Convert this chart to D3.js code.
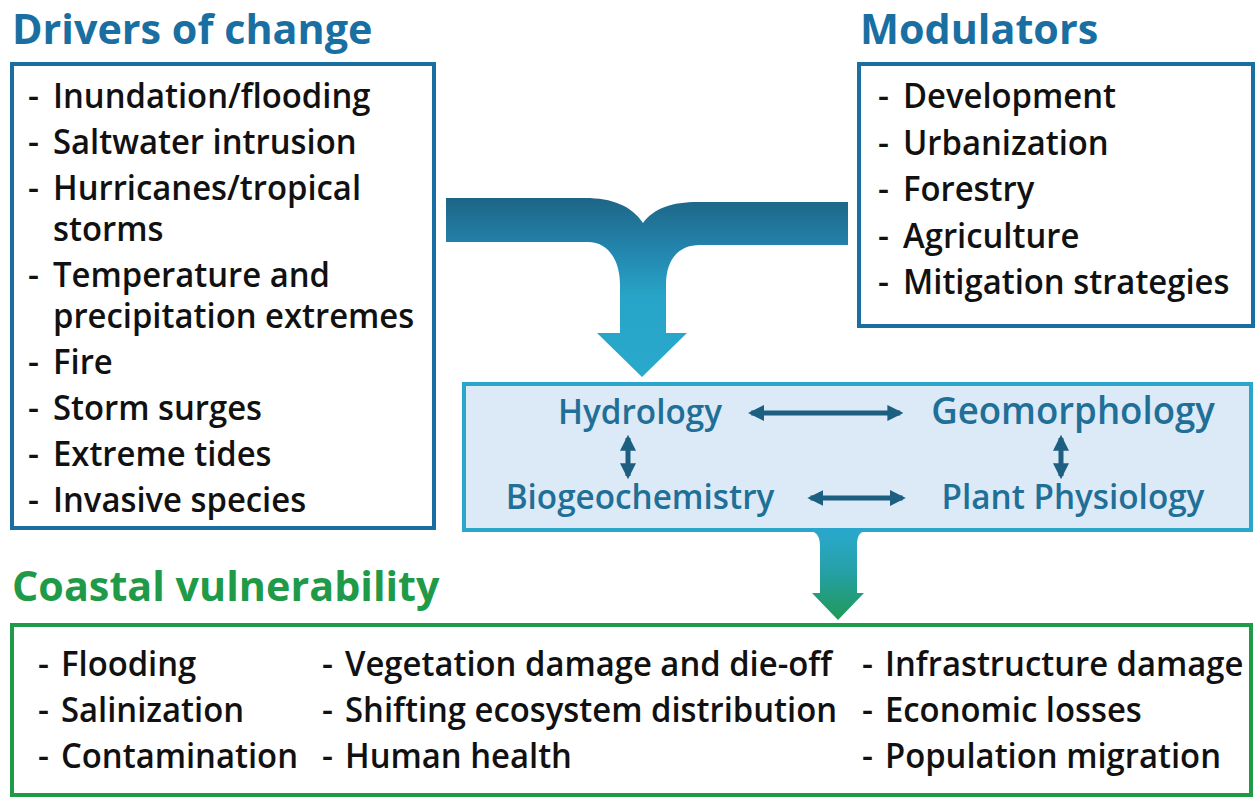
<!DOCTYPE html>
<html>
<head>
<meta charset="utf-8">
<script src="https://cdn.jsdelivr.net/npm/d3@7"></script>
<style>
  body { margin: 0; background: #fff; }
  svg { display: block; font-family: "Open Sans", "Noto Sans", sans-serif; }
</style>
</head>
<body>
<div id="chart"></div>
<script>
// Text content of the diagram.
const titles = ['Drivers of change', 'Modulators', 'Coastal vulnerability'];
// Each driver is a list of wrapped lines.
const drivers = [
  ['Inundation/flooding'],
  ['Saltwater intrusion'],
  ['Hurricanes/tropical', 'storms'],
  ['Temperature and', 'precipitation extremes'],
  ['Fire'],
  ['Storm surges'],
  ['Extreme tides'],
  ['Invasive species']
];
const modulators = ['Development', 'Urbanization', 'Forestry', 'Agriculture', 'Mitigation strategies'];
const processes = ['Hydrology', 'Geomorphology', 'Biogeochemistry', 'Plant Physiology'];
// Two-way links between processes (indices into processes).
const processLinks = [[0, 1], [2, 3], [0, 2], [1, 3]];
const vulnerabilities = [
  ['Flooding', 'Salinization', 'Contamination'],
  ['Vegetation damage and die-off', 'Shifting ecosystem distribution', 'Human health'],
  ['Infrastructure damage', 'Economic losses', 'Population migration']
];

// Colours.
const blue = '#1a6fa2', cyan = '#2ba6cb', green = '#1f9a48', procText = '#1f6f97', procArrow = '#1d5f80';

const W = 1257, H = 799;
const svg = d3.select('#chart').append('svg')
    .attr('width', W)
    .attr('height', H);
const defs = svg.append('defs');

// Squeeze a text node horizontally to mimic the narrow original face.
function squeeze(sel, k) {
  sel.each(function () {
    const len = this.getComputedTextLength();
    d3.select(this).attr('textLength', len * k).attr('lengthAdjust', 'spacingAndGlyphs');
  });
}

// Draw a dashed list at given columns.
function bulletList(g, lines, xDash, xText, size) {
  const rows = g.selectAll('g.row').data(lines).enter().append('g').attr('class', 'row')
      .attr('transform', d => 'translate(0,' + d.y + ')');
  rows.filter(d => d.first).append('text')
      .attr('x', xDash).attr('y', 0)
      .attr('font-size', size).attr('font-weight', 600).attr('fill', '#111')
      .text('-');
  rows.append('text')
      .attr('class', 'item')
      .attr('x', xText).attr('y', 0)
      .attr('font-size', size).attr('font-weight', 600).attr('fill', '#111')
      .text(d => d.text)
      .call(squeeze, 0.965);
}

// Titles.
const titlePos = [[12, 43.5, blue], [860, 43.5, blue], [12, 601, green]];
svg.selectAll('text.title').data(titles).enter().append('text')
    .attr('class', 'title')
    .attr('x', (d, i) => titlePos[i][0])
    .attr('y', (d, i) => titlePos[i][1])
    .attr('fill', (d, i) => titlePos[i][2])
    .attr('font-size', 40.5)
    .attr('font-weight', 700)
    .text(d => d)
    .call(squeeze, 1.02);

// Boxes.
svg.append('rect').attr('x', 12).attr('y', 64).attr('width', 422).attr('height', 464)
    .attr('fill', 'none').attr('stroke', blue).attr('stroke-width', 4);
svg.append('rect').attr('x', 859).attr('y', 64).attr('width', 394).attr('height', 262)
    .attr('fill', 'none').attr('stroke', blue).attr('stroke-width', 4);
svg.append('rect').attr('x', 12).attr('y', 625).attr('width', 1239).attr('height', 170)
    .attr('fill', 'none').attr('stroke', green).attr('stroke-width', 4);

// Drivers list: item step 46, wrapped line step 41.
let y = 108;
const driverLines = [];
drivers.forEach(function (item, i) {
  item.forEach(function (line, j) {
    if (j > 0) y += 41;
    driverLines.push({text: line, first: j === 0, y: y});
  });
  y += 46;
});
bulletList(svg.append('g'), driverLines, 28, 53, 34);

// Modulators list.
const rowY = d3.scaleLinear().domain([0, 1]).range([108, 154.5]);
bulletList(svg.append('g'),
    modulators.map((d, i) => ({text: d, first: true, y: rowY(i)})), 878, 903, 34);

// Vulnerability columns.
const colX = [38, 322, 862];
const vulY = d3.scaleLinear().domain([0, 1]).range([676, 722]);
vulnerabilities.forEach(function (col, c) {
  bulletList(svg.append('g'),
      col.map((d, i) => ({text: d, first: true, y: vulY(i)})), colX[c], colX[c] + 23, 34);
});

// Big merging arrow from drivers and modulators into the process box.
const g1 = defs.append('linearGradient').attr('id', 'gradTop')
    .attr('gradientUnits', 'userSpaceOnUse').attr('x1', 0).attr('y1', 198).attr('x2', 0).attr('y2', 377);
g1.append('stop').attr('offset', 0).attr('stop-color', '#1d6587');
g1.append('stop').attr('offset', 0.27).attr('stop-color', '#2383ab');
g1.append('stop').attr('offset', 0.55).attr('stop-color', '#27a4c7');
g1.append('stop').attr('offset', 1).attr('stop-color', '#2aa9cc');
const mergePath = d3.path();
mergePath.moveTo(446, 198);
mergePath.lineTo(585, 198);
mergePath.bezierCurveTo(612, 198, 632, 206, 643, 223);
mergePath.bezierCurveTo(654, 208, 672, 202, 698, 202);
mergePath.lineTo(848, 202);
mergePath.lineTo(848, 245);
mergePath.lineTo(700, 245);
mergePath.bezierCurveTo(678, 245, 666, 260, 666, 285);
mergePath.lineTo(666, 333);
mergePath.lineTo(687, 333);
mergePath.lineTo(642, 377);
mergePath.lineTo(597, 333);
mergePath.lineTo(620, 333);
mergePath.lineTo(620, 285);
mergePath.bezierCurveTo(620, 260, 608, 242, 588, 242);
mergePath.lineTo(446, 242);
mergePath.closePath();
svg.append('path').attr('d', mergePath.toString()).attr('fill', 'url(#gradTop)');

// Process box.
svg.append('rect').attr('x', 464).attr('y', 384).attr('width', 787).attr('height', 146)
    .attr('fill', '#dce9f7').attr('stroke', cyan).attr('stroke-width', 4);

// Down arrow from process box to vulnerability box.
const g2 = defs.append('linearGradient').attr('id', 'gradBottom')
    .attr('gradientUnits', 'userSpaceOnUse').attr('x1', 0).attr('y1', 531).attr('x2', 0).attr('y2', 620);
g2.append('stop').attr('offset', 0).attr('stop-color', '#2aa8cc');
g2.append('stop').attr('offset', 0.45).attr('stop-color', '#26a0a8');
g2.append('stop').attr('offset', 1).attr('stop-color', '#1f9a56');
const downPath = d3.path();
downPath.moveTo(810, 531);
downPath.lineTo(866, 531);
downPath.bezierCurveTo(859, 532, 857, 537, 857, 546);
downPath.lineTo(857, 593);
downPath.lineTo(864, 593);
downPath.lineTo(838, 620);
downPath.lineTo(812, 593);
downPath.lineTo(820, 593);
downPath.lineTo(820, 546);
downPath.bezierCurveTo(820, 537, 817, 532, 810, 531);
downPath.closePath();
svg.append('path').attr('d', downPath.toString()).attr('fill', 'url(#gradBottom)');

// Process nodes laid out on a 2x2 grid.
const colScale = d3.scalePoint().domain([0, 1]).range([640, 1073]);
const rowScale = d3.scalePoint().domain([0, 1]).range([424, 509]);
const nodeSize = [35, 38.5, 35, 35];
const nodes = svg.selectAll('text.proc').data(processes).enter().append('text')
    .attr('class', 'proc')
    .attr('x', (d, i) => colScale(i % 2))
    .attr('y', (d, i) => rowScale(Math.floor(i / 2)))
    .attr('text-anchor', 'middle')
    .attr('font-size', (d, i) => nodeSize[i])
    .attr('font-weight', 600)
    .attr('fill', procText)
    .text(d => d)
    .call(squeeze, 0.95);

// Measure node extents for arrow placement.
const boxes = [];
nodes.each(function () { boxes.push(this.getBBox()); });

defs.append('marker').attr('id', 'head')
    .attr('viewBox', '0 0 10 10').attr('refX', 8).attr('refY', 5)
    .attr('markerUnits', 'userSpaceOnUse')
    .attr('markerWidth', 16).attr('markerHeight', 16)
    .attr('orient', 'auto-start-reverse')
    .append('path').attr('d', 'M0,0 L10,5 L0,10 Z').attr('fill', procArrow);

processLinks.forEach(function (l) {
  const a = boxes[l[0]], b = boxes[l[1]];
  let x1, y1, x2, y2;
  if (l[1] - l[0] === 1) {
    // horizontal
    const yy = rowScale(Math.floor(l[0] / 2)) - 11;
    const top = l[0] === 0;
    x1 = a.x + a.width + (top ? 29 : 36);
    x2 = b.x - (top ? 31 : 39);
    y1 = y2 = yy;
  } else {
    const xx = colScale(l[0] % 2) - 12;
    x1 = x2 = xx;
    y1 = rowScale(0) + 14; y2 = rowScale(1) - 33;
  }
  svg.append('line')
      .attr('x1', x1).attr('y1', y1).attr('x2', x2).attr('y2', y2)
      .attr('stroke', procArrow).attr('stroke-width', 5)
      .attr('marker-start', 'url(#head)').attr('marker-end', 'url(#head)');
});
</script>
</body>
</html>
